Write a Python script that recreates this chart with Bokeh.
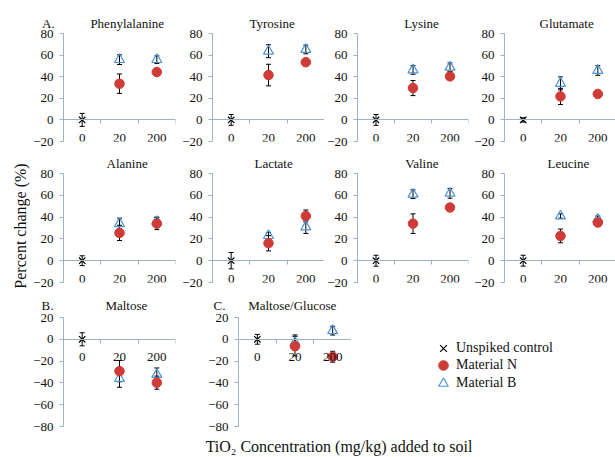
from bokeh.plotting import figure
from bokeh.models import (Range1d, FixedTicker, Whisker, TeeHead, ColumnDataSource,
                          Legend, LegendItem, Title)
from bokeh.layouts import row, column
from bokeh.embed import file_html
from bokeh.resources import INLINE

# ---------------- data ----------------
categories = ["0", "20", "200"]
analytes = ["Phenylalanine", "Tyrosine", "Lysine", "Glutamate",
            "Alanine", "Lactate", "Valine", "Leucine",
            "Maltose", "Maltose/Glucose"]
panel_letters = {0: "A.", 8: "B.", 9: "C."}
ctrl_mean = [0, 0, 0, 0, 0, 0, 0, 0, 0, 0]
ctrl_err = [6, 5, 5, 2, 4.5, 7.5, 5, 5, 6, 4.5]
n_20 = [33.5, 41.5, 29.5, 21.7, 25.5, 16.0, 34.0, 22.7, -29.2, -6.3]
n_20_err = [9, 10, 7, 7.5, 7, 7, 9, 6.3, 9.8, 9]
n_200 = [44.3, 53.4, 40.3, 24.0, 34.0, 41.0, 48.8, 35.0, -39.8, -16.0]
n_200_err = [2, 2, 2, 3, 5.5, 5.5, 3, 3, 6, 5]
b_20 = [55.8, 63.6, 46.3, 33.8, 34.0, 23.0, 61.0, 41.0, -36.0, -3.0]
b_20_err = [4.5, 6, 4, 6, 5, 3, 4, 2, 8, 7]
b_200 = [55.8, 65.2, 48.8, 45.8, 36.0, 31.0, 61.8, 38.0, -32.3, 7.9]
b_200_err = [3.5, 4, 4, 4.5, 4, 6, 4.5, 3, 6, 4]
yticks_top = [-20, 0, 20, 40, 60, 80]
yticks_bottom = [-80, -60, -40, -20, 0, 20]
legend_labels = ["Unspiked control", "Material N", "Material B"]
xlabel_text = "TiO\u2082 Concentration (mg/kg) added to soil"
ylabel_text = "Percent change (%)"

# ---------------- style ----------------
FONT = "Liberation Serif"
AXIS = "#9db3cb"
RED = "#cf3b37"
BLUE = "#4b93d6"
TXT = "#111111"
NBSP = "\u00a0"

xc = [i + 0.5 for i in range(len(categories))]
xb = [i for i in range(len(categories) + 1)]


def style_blank(p):
    p.outline_line_color = None
    p.xgrid.visible = False
    p.ygrid.visible = False


def make_panel(k, bl, fw, br, bt, fh, bb, yr, yticks, xend, t_off, t_gap, gap_n=0):
    p = figure(width=bl + fw + br, height=bt + fh + bb,
               x_range=Range1d(0, xend), y_range=Range1d(*yr),
               toolbar_location=None, output_backend="svg",
               min_border_left=bl, min_border_right=br,
               min_border_top=bt, min_border_bottom=bb)
    style_blank(p)

    # x axis crossing at zero, ticks between categories
    xa = p.xaxis[0]
    xa.fixed_location = 0
    xa.ticker = FixedTicker(ticks=xc, minor_ticks=xb)
    xa.major_label_overrides = {xc[i]: categories[i] for i in range(len(categories))}
    xa.major_tick_out = 0
    xa.major_tick_in = 0
    xa.minor_tick_out = 4
    xa.minor_tick_in = 0
    xa.minor_tick_line_color = AXIS
    xa.axis_line_color = AXIS
    xa.major_label_standoff = 10
    xa.major_label_text_font = FONT
    xa.major_label_text_font_size = "13px"
    xa.major_label_text_color = TXT

    ya = p.yaxis[0]
    ya.ticker = FixedTicker(ticks=yticks)
    ya.major_tick_out = 4
    ya.major_tick_in = 0
    ya.minor_tick_out = 0
    ya.minor_tick_in = 0
    ya.major_tick_line_color = AXIS
    ya.axis_line_color = AXIS
    ya.major_label_standoff = 6
    ya.major_label_text_font = FONT
    ya.major_label_text_font_size = "13px"
    ya.major_label_text_color = TXT

    xs = [xc[0], xc[1], xc[2], xc[1], xc[2]]
    ys = [ctrl_mean[k], n_20[k], n_200[k], b_20[k], b_200[k]]
    es = [ctrl_err[k], n_20_err[k], n_200_err[k], b_20_err[k], b_200_err[k]]
    src = ColumnDataSource(dict(x=xs, upper=[y + e for y, e in zip(ys, es)],
                                lower=[y - e for y, e in zip(ys, es)]))
    p.add_layout(Whisker(source=src, base="x", upper="upper", lower="lower",
                         dimension="height", line_color="black", line_width=1,
                         upper_head=TeeHead(size=5, line_color="black", line_width=1),
                         lower_head=TeeHead(size=5, line_color="black", line_width=1)))

    p.scatter(x=[xc[0]], y=[ctrl_mean[k]], marker="x", size=9,
              line_color="black", line_width=1.2)
    p.scatter(x=xc[1:], y=[b_20[k], b_200[k]], marker="triangle", size=10,
              line_color=BLUE, line_width=1.2, fill_color=None)
    p.scatter(x=xc[1:], y=[n_20[k], n_200[k]], marker="circle", size=9.5,
              line_color=RED, fill_color=RED)

    text = analytes[k]
    if k in panel_letters:
        text = panel_letters[k] + NBSP * gap_n + text
    p.title = Title(text=text, align="left", offset=t_off, standoff=t_gap,
                    vertical_align="bottom", text_font=FONT, text_font_size="13px",
                    text_font_style="normal", text_color=TXT)
    return p


R1 = dict(bt=33, fh=108, bb=8, yr=(-20, 80), yticks=yticks_top, t_gap=6)
R2 = dict(bt=24, fh=109, bb=7, yr=(-20, 80), yticks=yticks_top, t_gap=6)
R3 = dict(bt=28, fh=109, bb=6, yr=(-80, 20), yticks=yticks_bottom, t_gap=10)

YL_W = 30
# column geometry (frame lefts on page: 62, 211, 355, 503)
C1 = dict(bl=62 - YL_W, fw=113, br=4, xend=3)
C2 = dict(bl=32, fw=113, br=0, xend=3)
C3 = dict(bl=31, fw=113, br=3, xend=3)
C4 = dict(bl=32, fw=112, br=0, xend=112 / (113 / 3))

f1 = make_panel(0, t_off=-21.5, gap_n=11, **C1, **R1)
f2 = make_panel(1, t_off=37, **C2, **R1)
f3 = make_panel(2, t_off=46.7, **C3, **R1)
f4 = make_panel(3, t_off=35, **C4, **R1)

f5 = make_panel(4, t_off=43, **C1, **R2)
f6 = make_panel(5, t_off=42, **C2, **R2)
f7 = make_panel(6, t_off=47.7, **C3, **R2)
f8 = make_panel(7, t_off=43, **C4, **R2)

f9 = make_panel(8, t_off=-22, gap_n=16, **C1, **R3)
f10 = make_panel(9, t_off=-25, gap_n=7, bl=59, fw=113, br=0, xend=3, **R3)

# legend panel (sample marks sit outside the visible range; only legend glyphs show)
LEG_H = 28 + 109 + 6
leg = figure(width=264, height=LEG_H, x_range=Range1d(10, 11), y_range=Range1d(0, 1),
             toolbar_location=None, output_backend="svg",
             min_border_left=0, min_border_right=0, min_border_top=0, min_border_bottom=0)
style_blank(leg)
leg.axis.visible = False
lr_c = leg.scatter(x=[xc[0]], y=[ctrl_mean[9]], marker="x",
                   line_color="black", line_width=1.2)
lr_n = leg.scatter(x=[xc[1]], y=[n_20[9]], marker="circle",
                   line_color=RED, fill_color=RED)
lr_b = leg.scatter(x=[xc[1]], y=[b_20[9]], marker="triangle",
                   line_color=BLUE, line_width=1.2, fill_color=None)
# one legend per entry so that rows can sit closer than the glyph box
row_centers = [347.0, 364.5, 382.0]   # page y of each legend row
leg_top_page = 289
for lab, r, cy in zip(legend_labels, [lr_c, lr_n, lr_b], row_centers):
    lg = Legend(items=[LegendItem(label=lab, renderers=[r])],
                location=(80, (leg_top_page + LEG_H) - (cy + 12) - 6.5),
                glyph_width=24, glyph_height=24, label_height=24,
                padding=0, margin=0, label_standoff=1,
                border_line_color=None, background_fill_alpha=0,
                label_text_font=FONT, label_text_font_size="14px",
                label_text_color=TXT)
    leg.add_layout(lg)

# y-axis title strip (left of all panels)
ylab = figure(width=YL_W, height=457, x_range=Range1d(0, 1), y_range=Range1d(0, 1),
              toolbar_location=None, output_backend="svg",
              min_border_left=28, min_border_right=0, min_border_top=160,
              min_border_bottom=457 - 291)
style_blank(ylab)
ylab.xaxis.visible = False
ya = ylab.yaxis[0]
ya.ticker = FixedTicker(ticks=[])
ya.major_tick_out = 0
ya.major_tick_in = 0
ya.minor_tick_out = 0
ya.minor_tick_in = 0
ya.axis_line_color = None
ya.axis_label = ylabel_text
ya.axis_label_standoff = 0
ya.axis_label_text_font = FONT
ya.axis_label_text_font_size = "16px"
ya.axis_label_text_font_style = "normal"
ya.axis_label_text_color = TXT

# x-axis title strip
xl = figure(width=615 - YL_W, height=25, x_range=Range1d(0, 1), y_range=Range1d(0, 1),
            toolbar_location=None, output_backend="svg",
            min_border_left=62 - YL_W, min_border_right=0, min_border_top=0,
            min_border_bottom=0)
style_blank(xl)
xl.yaxis.visible = False
xa = xl.xaxis[0]
xa.ticker = FixedTicker(ticks=[])
xa.major_tick_out = 0
xa.major_tick_in = 0
xa.minor_tick_out = 0
xa.minor_tick_in = 0
xa.axis_line_color = None
xa.axis_label = xlabel_text
xa.axis_label_standoff = 4
xa.axis_label_text_font = FONT
xa.axis_label_text_font_size = "16px"
xa.axis_label_text_font_style = "normal"
xa.axis_label_text_color = TXT

layout = row(ylab, column(row(f1, f2, f3, f4), row(f5, f6, f7, f8),
                          row(f9, f10, leg), xl))

open("out.html", "w").write(file_html(layout, INLINE))
